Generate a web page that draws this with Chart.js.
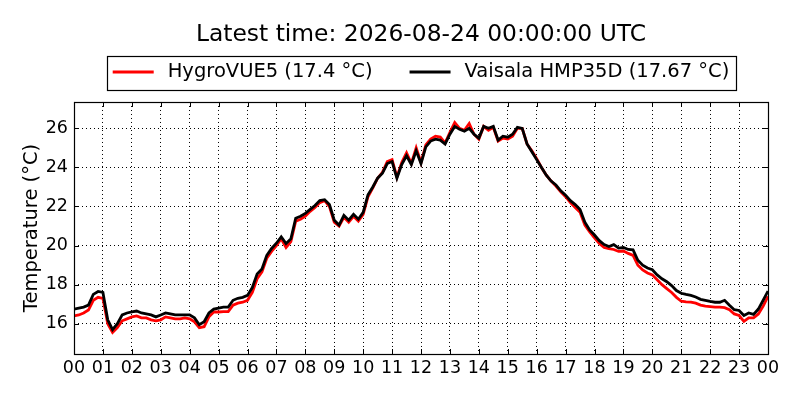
<!DOCTYPE html>
<html>
<head>
<meta charset="utf-8">
<script src="https://cdn.jsdelivr.net/npm/chart.js@4"></script>
<style>
  html, body { margin: 0; padding: 0; background: #fff; }
  #wrap { width: 800px; height: 400px; }
</style>
</head>
<body>
<div id="wrap"><canvas id="tempChart" width="800" height="400"></canvas></div>
<script>
// readings every 10 minutes, 00:00 -> 24:00 (one row per hour)
const stepMinutes = 10;

const hygroVue = [
  16.4, 16.45, 16.55, 16.7, 17.2, 17.35,
  17.3, 16.0, 15.55, 15.8, 16.15, 16.25,
  16.35, 16.4, 16.3, 16.3, 16.2, 16.15,
  16.2, 16.35, 16.3, 16.25, 16.25, 16.3,
  16.25, 16.1, 15.8, 15.85, 16.35, 16.6,
  16.6, 16.62, 16.62, 16.95, 17.05, 17.1,
  17.2, 17.6, 18.3, 18.65, 19.35, 19.7,
  20.0, 20.35, 19.9, 20.2, 21.25, 21.35,
  21.5, 21.75, 21.95, 22.2, 22.3, 22.0,
  21.2, 21.0, 21.45, 21.2, 21.5, 21.25,
  21.6, 22.5, 22.95, 23.45, 23.75, 24.3,
  24.4, 23.5, 24.25, 24.75, 24.2, 25.0,
  24.25, 25.15, 25.45, 25.6, 25.55, 25.25,
  25.8, 26.3, 26.0, 25.9, 26.25, 25.7,
  25.45, 26.1, 25.9, 26.05, 25.35, 25.5,
  25.45, 25.6, 26.0, 26.0, 25.2, 24.85,
  24.45, 24.0, 23.6, 23.3, 23.05, 22.75,
  22.5, 22.2, 21.95, 21.7, 21.05, 20.7,
  20.4, 20.1, 19.9, 19.85, 19.8, 19.7,
  19.72, 19.6, 19.5, 19.0, 18.75, 18.6,
  18.5, 18.25, 18.0, 17.8, 17.6, 17.35,
  17.15, 17.12, 17.1, 17.05, 16.95, 16.9,
  16.88, 16.85, 16.85, 16.82, 16.72, 16.5,
  16.42, 16.12, 16.3, 16.3, 16.5, 16.9,
  17.4
];

const vaisala = [
  16.75, 16.8, 16.85, 16.95, 17.5, 17.65,
  17.6, 16.2, 15.7, 16.0, 16.45, 16.55,
  16.6, 16.65, 16.55, 16.5, 16.45, 16.35,
  16.45, 16.55, 16.5, 16.45, 16.45, 16.45,
  16.45, 16.3, 15.95, 16.1, 16.55, 16.75,
  16.8, 16.85, 16.85, 17.2, 17.3, 17.35,
  17.45, 17.85, 18.55, 18.8, 19.5, 19.85,
  20.12, 20.45, 20.1, 20.35, 21.4, 21.5,
  21.65, 21.85, 22.05, 22.3, 22.35, 22.1,
  21.3, 21.05, 21.55, 21.3, 21.6, 21.35,
  21.7, 22.6, 23.0, 23.45, 23.7, 24.2,
  24.3, 23.45, 24.15, 24.6, 24.15, 24.85,
  24.2, 25.05, 25.35, 25.45, 25.4, 25.2,
  25.7, 26.1, 25.95, 25.85, 26.0, 25.7,
  25.5, 26.1, 26.0, 26.1, 25.4, 25.6,
  25.55, 25.7, 26.05, 26.0, 25.2, 24.8,
  24.4, 24.0, 23.6, 23.3, 23.1, 22.8,
  22.58, 22.3, 22.1, 21.85, 21.2, 20.8,
  20.54, 20.25, 20.05, 19.95, 20.05, 19.87,
  19.9, 19.8, 19.78, 19.25, 19.0, 18.85,
  18.76, 18.5, 18.3, 18.15, 17.95, 17.7,
  17.56, 17.5, 17.45, 17.37, 17.25, 17.2,
  17.14, 17.1, 17.1, 17.2, 16.95, 16.72,
  16.68, 16.42, 16.55, 16.48, 16.75, 17.2,
  17.67
];

const hourTicks = [0, 1, 2, 3, 4, 5, 6, 7, 8, 9, 10, 11, 12, 13, 14, 15, 16, 17, 18, 19, 20, 21, 22, 23, 24];
const tempTicks = [16, 18, 20, 22, 24, 26];
const seriesNames = ['HygroVUE5 (17.4 °C)', 'Vaisala HMP35D (17.67 °C)'];
const titleText = 'Latest time: 2026-08-24 00:00:00 UTC';

function toPoints(values) {
  return values.map((v, i) => ({ x: i * stepMinutes / 60, y: v }));
}

// frame, inward tick marks and the boxed legend (matplotlib look)
const framePlugin = {
  id: 'frame',
  afterDraw(chart) {
    const ctx = chart.ctx;
    const a = chart.chartArea;
    const xs = chart.scales.x, ys = chart.scales.y;
    ctx.save();
    ctx.strokeStyle = '#000';
    ctx.lineWidth = 1;
    ctx.setLineDash([]);
    ctx.beginPath();
    hourTicks.forEach(h => {
      const px = Math.round(xs.getPixelForValue(h)) + 0.5;
      ctx.moveTo(px, a.bottom); ctx.lineTo(px, a.bottom - 5);
      ctx.moveTo(px, a.top); ctx.lineTo(px, a.top + 5);
    });
    tempTicks.forEach(t => {
      const py = Math.round(ys.getPixelForValue(t)) + 0.5;
      ctx.moveTo(a.left, py); ctx.lineTo(a.left + 5, py);
      ctx.moveTo(a.right, py); ctx.lineTo(a.right - 5, py);
    });
    ctx.stroke();
    ctx.lineWidth = 1.2;
    ctx.strokeRect(Math.round(a.left) + 0.5, Math.round(a.top) + 0.5,
      Math.round(a.right - a.left), Math.round(a.bottom - a.top));

    // legend
    const font = '19.5px "DejaVu Sans"';
    ctx.font = font;
    const pad = 6, sample = 41, gap = 14, itemGap = 37;
    const widths = chart.data.datasets.map(d => ctx.measureText(d.label).width);
    let total = pad * 2;
    widths.forEach((w, i) => { total += sample + gap + w + (i > 0 ? itemGap : 0); });
    const cx = (a.left + a.right) / 2;
    let x = cx - total / 2;
    const top = 56, h = 34, cy = top + h / 2 - 1;
    ctx.lineWidth = 1.2;
    ctx.strokeRect(Math.round(x) + 0.5, top + 0.5, Math.round(total), h);
    x += pad;
    ctx.textBaseline = 'middle';
    ctx.textAlign = 'left';
    chart.data.datasets.forEach((d, i) => {
      if (i > 0) x += itemGap;
      ctx.strokeStyle = d.borderColor;
      ctx.lineWidth = 2.8;
      ctx.beginPath();
      ctx.moveTo(x, cy); ctx.lineTo(x + sample, cy);
      ctx.stroke();
      x += sample + gap;
      ctx.fillStyle = '#000';
      ctx.fillText(d.label, x, cy);
      x += widths[i];
    });
    ctx.restore();
  }
};

new Chart(document.getElementById('tempChart'), {
  type: 'line',
  data: {
    datasets: [{
      label: seriesNames[0],
      data: toPoints(hygroVue),
      borderColor: '#ff0000',
      backgroundColor: '#ff0000',
      borderWidth: 2.8,
      pointRadius: 0,
      tension: 0,
      order: 1
    }, {
      label: seriesNames[1],
      data: toPoints(vaisala),
      borderColor: '#000000',
      backgroundColor: '#000000',
      borderWidth: 2.8,
      pointRadius: 0,
      tension: 0,
      order: 0
    }]
  },
  options: {
    responsive: false,
    animation: false,
    devicePixelRatio: 1,
    layout: { padding: { left: 0, right: 32, top: 0, bottom: 0 } },
    plugins: {
      legend: { display: false },
      tooltip: { enabled: false },
      title: {
        display: true,
        text: titleText,
        fullSize: false,
        color: '#000',
        font: { family: 'DejaVu Sans', size: 23.4, weight: 'normal' },
        padding: { top: 21, bottom: 52.9 }
      }
    },
    scales: {
      x: {
        type: 'linear',
        min: 0,
        max: 24,
        afterBuildTicks: s => { s.ticks = hourTicks.map(v => ({ value: v })); },
        afterFit: s => { s.height = 46; },
        ticks: {
          color: '#000',
          padding: 4,
          maxRotation: 0,
          autoSkip: false,
          font: { family: 'DejaVu Sans', size: 17.5 },
          callback: v => String(v % 24).padStart(2, '0')
        },
        grid: { color: '#000', lineWidth: 1, drawTicks: false },
        border: { display: false, dash: [1, 3] }
      },
      y: {
        min: 14.45,
        max: 27.35,
        afterBuildTicks: s => { s.ticks = tempTicks.map(v => ({ value: v })); },
        afterFit: s => { s.width = 74; },
        ticks: {
          color: '#000',
          padding: 6,
          font: { family: 'DejaVu Sans', size: 17.5 }
        },
        grid: { color: '#000', lineWidth: 1, drawTicks: false },
        border: { display: false, dash: [1, 3] },
        title: {
          display: true,
          text: 'Temperature (°C)',
          color: '#000',
          font: { family: 'DejaVu Sans', size: 19.5 },
          padding: { top: 20, bottom: 0 }
        }
      }
    }
  },
  plugins: [framePlugin]
});
</script>
</body>
</html>
